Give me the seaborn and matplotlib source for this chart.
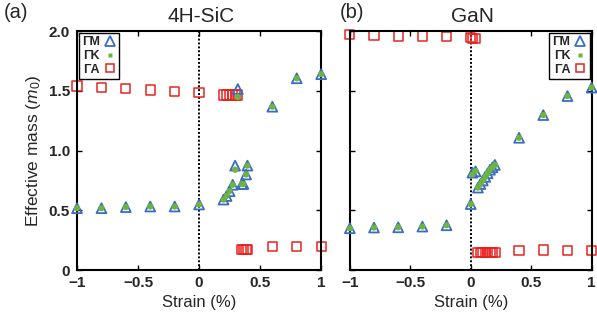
import matplotlib
matplotlib.use("Agg")
import matplotlib.pyplot as plt
import seaborn as sns
import pandas as pd
from matplotlib.lines import Line2D

# ---------------- data ----------------
sic_strain = [-1.0, -0.8, -0.6, -0.4, -0.2, 0.0, 0.20, 0.225, 0.25, 0.275, 0.295, 0.317,
              0.35, 0.363, 0.385, 0.396, 0.6, 0.8, 1.0]
sic_gm = [0.518, 0.518, 0.527, 0.532, 0.532, 0.549, 0.59, 0.62, 0.66, 0.714, 0.874, 1.515,
          0.72, 0.72, 0.80, 0.874, 1.367, 1.605, 1.639]
sic_gk = [0.518, 0.518, 0.527, 0.532, 0.532, 0.549, 0.59, 0.62, 0.66, 0.714, 0.84, 1.448,
          0.72, 0.72, 0.80, 0.874, 1.367, 1.605, 1.639]
sic_ga = [1.54, 1.527, 1.518, 1.507, 1.493, 1.485, 1.465, 1.465, 1.465, 1.465, 1.465, 1.465,
          0.17, 0.17, 0.17, 0.17, 0.196, 0.196, 0.196]

gan_strain = [-1.0, -0.8, -0.6, -0.4, -0.2, 0.0, 0.014, 0.04, 0.06, 0.08, 0.10, 0.12,
              0.14, 0.16, 0.18, 0.20, 0.4, 0.6, 0.8, 1.0]
gan_gm = [0.35, 0.356, 0.358, 0.364, 0.375, 0.552, 0.815, 0.826, 0.69, 0.72, 0.75, 0.78,
          0.81, 0.84, 0.86, 0.88, 1.107, 1.297, 1.456, 1.527]
gan_gk = [0.35, 0.356, 0.358, 0.364, 0.375, 0.552, 0.80, 0.83, 0.69, 0.72, 0.75, 0.78,
          0.81, 0.84, 0.86, 0.88, 1.107, 1.297, 1.456, 1.527]
gan_ga = [1.968, 1.962, 1.958, 1.958, 1.955, 1.945, 1.935, 1.935, 0.147, 0.147, 0.147, 0.147,
          0.147, 0.147, 0.147, 0.147, 0.162, 0.168, 0.162, 0.162]

series_labels = ["ΓM", "ΓK", "ΓA"]
panel_titles = ["4H-SiC", "GaN"]
panel_tags = ["(a)", "(b)"]
xticks = [-1, -0.5, 0, 0.5, 1]
xticklabels = ["\u22121", "\u22120.5", "0", "0.5", "1"]
yticks = [0, 0.5, 1.0, 1.5, 2.0]
yticklabels = ["0", "0.5", "1.0", "1.5", "2.0"]

# ---------------- style ----------------
sns.set_theme(style="ticks")
plt.rcParams["font.family"] = ["Liberation Sans", "DejaVu Sans"]
plt.rcParams["mathtext.fontset"] = "custom"
plt.rcParams["mathtext.it"] = "Liberation Sans:italic"
plt.rcParams["mathtext.rm"] = "Liberation Sans"

BLUE = "#3a6cc6"
GREEN = "#6db33f"
RED = "#e8231f"

fig = plt.figure(figsize=(5.97, 3.27), dpi=100)
axL = fig.add_axes([0.129, 0.174, 0.409, 0.731])
axR = fig.add_axes([0.586, 0.174, 0.405, 0.731])


def panel(ax, strain, gm, gk, ga, legloc, showy):
    df = pd.DataFrame({"strain": strain, "gm": gm, "gk": gk, "ga": ga})
    ax.axvline(0, color="black", ls=(0, (1, 1)), lw=1.4, zorder=1)
    sns.scatterplot(data=df, x="strain", y="ga", marker="s", s=44, facecolors="none",
                    edgecolor=RED, linewidth=1.1, ax=ax, zorder=2, clip_on=False, legend=False)
    sns.scatterplot(data=df, x="strain", y="gm", marker="^", s=50, facecolors="none",
                    edgecolor=BLUE, linewidth=1.3, ax=ax, zorder=3, clip_on=False, legend=False)
    sns.scatterplot(data=df, x="strain", y="gk", marker="o", s=20, color=GREEN,
                    edgecolor="none", linewidth=0, ax=ax, zorder=4, clip_on=False, legend=False)
    ax.set_xlim(-1, 1)
    ax.set_ylim(0, 2)
    ax.set_xticks(xticks)
    ax.set_xticklabels(xticklabels, fontweight="bold", fontsize=11)
    ax.set_yticks(yticks)
    if showy:
        ax.set_yticklabels(yticklabels, fontweight="bold", fontsize=11)
    else:
        ax.set_yticklabels([])
    ax.tick_params(direction="in", top=True, right=True, length=3.5, width=1,
                   color="black", labelleft=showy)
    ax.tick_params(axis="x", pad=4.5)
    ax.tick_params(axis="y", pad=5)
    for sp in ax.spines.values():
        sp.set_linewidth(1.5)
        sp.set_color("black")
    ax.set_xlabel("Strain (%)", fontsize=12, labelpad=3)
    ax.set_ylabel("")
    handles = [
        Line2D([], [], marker="^", ls="", markersize=6.5, markerfacecolor="none",
               markeredgecolor=BLUE, markeredgewidth=1.3),
        Line2D([], [], marker="s", ls="", markersize=3, markerfacecolor=GREEN,
               markeredgecolor="none"),
        Line2D([], [], marker="s", ls="", markersize=6, markerfacecolor="none",
               markeredgecolor=RED, markeredgewidth=1.1),
    ]
    leg = ax.legend(handles, series_labels, loc=legloc, markerfirst=False, frameon=True,
                    fancybox=False, framealpha=1, edgecolor="black",
                    prop={"weight": "bold", "size": 9}, handlelength=1.0,
                    handletextpad=0.3, borderpad=0.25, labelspacing=0.15,
                    borderaxespad=0.15)
    leg.get_frame().set_linewidth(1.0)
    leg.set_zorder(5)


panel(axL, sic_strain, sic_gm, sic_gk, sic_ga, "upper left", True)
panel(axR, gan_strain, gan_gm, gan_gk, gan_ga, "upper right", False)

axL.set_ylabel("Effective mass ($m_0$)", fontsize=12.5, labelpad=4)

fig.text(201 / 597, 1 - 16 / 327, panel_titles[0], ha="center", va="center", fontsize=15)
fig.text(472 / 597, 1 - 16 / 327, panel_titles[1], ha="center", va="center", fontsize=15)
fig.text(16 / 597, 1 - 13 / 327, panel_tags[0], ha="center", va="center", fontsize=14.5)
fig.text(352 / 597, 1 - 13 / 327, panel_tags[1], ha="center", va="center", fontsize=14.5)

fig.savefig("out.png", dpi=100)
